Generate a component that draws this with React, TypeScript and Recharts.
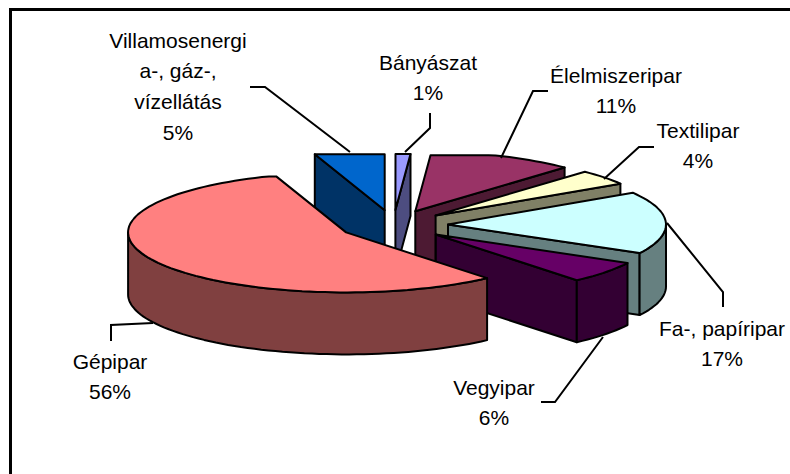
import React from "react";
import { PieChart, Pie } from "recharts";

const categories = ["Villamosenergia-, gáz-, vízellátás", "Bányászat", "Élelmiszeripar", "Textilipar", "Fa-, papíripar", "Vegyipar", "Gépipar"];
const shares = [5.2, 1.1, 10.9, 4.1, 16.8, 5.9, 56];
const wrappedNames = [["Villamosenergi", "a-, gáz-,", "vízellátás"], ["Bányászat"], ["Élelmiszeripar"], ["Textilipar"], ["Fa-, papíripar"], ["Vegyipar"], ["Gépipar"]];
const topColors = ["#0066CC", "#9999FF", "#993366", "#FFFFCC", "#CCFFFF", "#660066", "#FF8080"];
const wallColors = ["#003366", "#4D4D80", "#4D1A33", "#808066", "#668080", "#330033", "#804040"];

// label layout: text centre x, first line centre y, leader polyline
const labelLayout = [
  { x: 178, y: 40, line: [[250, 87], [265, 87], [350, 152]] },
  { x: 428, y: 62, line: [[430, 113], [430, 128], [405, 152]] },
  { x: 616, y: 75, line: [[548, 91], [533, 91], [501, 158]] },
  { x: 698, y: 130, line: [[654, 147], [639, 147], [604, 179]] },
  { x: 722, y: 328, line: [[723, 307], [723, 292], [667, 223]] },
  { x: 494, y: 387, line: [[541, 402], [555, 402], [603, 337]] },
  { x: 110, y: 361, line: [[111, 341], [111, 325], [153, 323]] },
];

const chartData = categories.map((name, i) => ({ name, value: shares[i], fill: topColors[i], wall: wallColors[i] }));

const TILT = 60 / 218;
const DEPTH = 62;
const EXPLODE = 0.25;
const BACK_LIMIT = 56;
const rad = (d: number) => (d * Math.PI) / 180;

function Slice3D(props: any) {
  const { cx, cy, outerRadius: rx, startAngle, endAngle, fill } = props;
  const wall = props.wall ?? props.payload?.wall;
  const ry = rx * TILT;
  const t1 = 90 - startAngle;
  const t2 = 90 - endAngle;
  const mid = (t1 + t2) / 2;
  const ax = cx + EXPLODE * rx * Math.sin(rad(mid));
  const ay = cy - EXPLODE * ry * Math.cos(rad(mid));
  const pt = (t: number): [number, number] => {
    const c = Math.cos(rad(t));
    const dy = c > 0 ? -Math.min(BACK_LIMIT, ry * c) : -ry * c;
    return [ax + rx * Math.sin(rad(t)), ay + dy];
  };
  const arc = (a: number, b: number) => {
    const out: [number, number][] = [];
    const n = Math.max(2, Math.ceil(Math.abs(b - a) / 2));
    for (let i = 0; i <= n; i++) out.push(pt(a + ((b - a) * i) / n));
    return out;
  };
  const toPath = (p: [number, number][]) => "M" + p.map((q) => q[0].toFixed(1) + " " + q[1].toFixed(1)).join("L") + "Z";
  const drop = (p: [number, number]): [number, number] => [p[0], p[1] + DEPTH];

  const edgeVisible = (t: number, interiorT: number) => {
    const p = pt(t);
    const q = pt(interiorT);
    const e = [p[0] - ax, p[1] - ay];
    const v = [q[0] - ax, q[1] - ay];
    let n = [-e[1], e[0]];
    if (n[0] * v[0] + n[1] * v[1] > 0) n = [-n[0], -n[1]];
    return n[1] > 0.5;
  };
  const style = { stroke: "#000", strokeWidth: 2, strokeLinejoin: "round" as const };
  const A: [number, number] = [ax, ay];
  const walls: React.ReactNode[] = [];
  [
    { t: t1, inner: t1 + 3 },
    { t: t2, inner: t2 - 3 },
  ].forEach(({ t, inner }, i) => {
    if (edgeVisible(t, inner)) {
      const P = pt(t);
      walls.push(<path key={"r" + i} d={toPath([A, P, drop(P), drop(A)])} fill={wall} {...style} />);
    }
  });
  const f1 = Math.max(t1, 90);
  const f2 = Math.min(t2, 270);
  if (f2 > f1) {
    const top = arc(f1, f2);
    walls.push(<path key="o" d={toPath([...top, ...top.map(drop).reverse()])} fill={wall} {...style} />);
  }
  return (
    <g>
      {walls}
      <path d={toPath([A, ...arc(t1, t2)])} fill={fill} {...style} />
    </g>
  );
}

function SliceLabel(props: any) {
  const { index, percent } = props;
  const layout = labelLayout[index];
  const lines = [...wrappedNames[index], Math.round(percent * 100) + "%"];
  return (
    <g>
      <polyline points={layout.line.map((p) => p.join(",")).join(" ")} fill="none" stroke="#000" strokeWidth={2} />
      {lines.map((t, i) => (
        <text key={i} x={layout.x} y={layout.y + i * 30.8} textAnchor="middle" dominantBaseline="central" fontFamily="'Liberation Sans', Arial, sans-serif" fontSize={21} fill="#000">
          {t}
        </text>
      ))}
    </g>
  );
}

export default function App() {
  return (
    <div style={{ position: "absolute", left: 0, top: 0, width: 790, height: 474, background: "#fff", overflow: "hidden" }}>
      <div style={{ position: "absolute", left: 9, top: 8, width: 781, height: 2.5, background: "#000" }} />
      <div style={{ position: "absolute", left: 9, top: 8, width: 2.5, height: 466, background: "#000" }} />
      <PieChart width={790} height={474} margin={{ top: 0, right: 0, bottom: 0, left: 0 }} style={{ position: "absolute", left: 0, top: 0 }}>
        <Pie
          data={chartData}
          dataKey="value"
          nameKey="name"
          cx={393.5}
          cy={225}
          innerRadius={0}
          outerRadius={218}
          startAngle={108.7}
          endAngle={-251.3}
          paddingAngle={0}
          stroke="#000"
          isAnimationActive={false}
          shape={Slice3D}
          label={SliceLabel}
          labelLine={false}
        />
      </PieChart>
    </div>
  );
}
